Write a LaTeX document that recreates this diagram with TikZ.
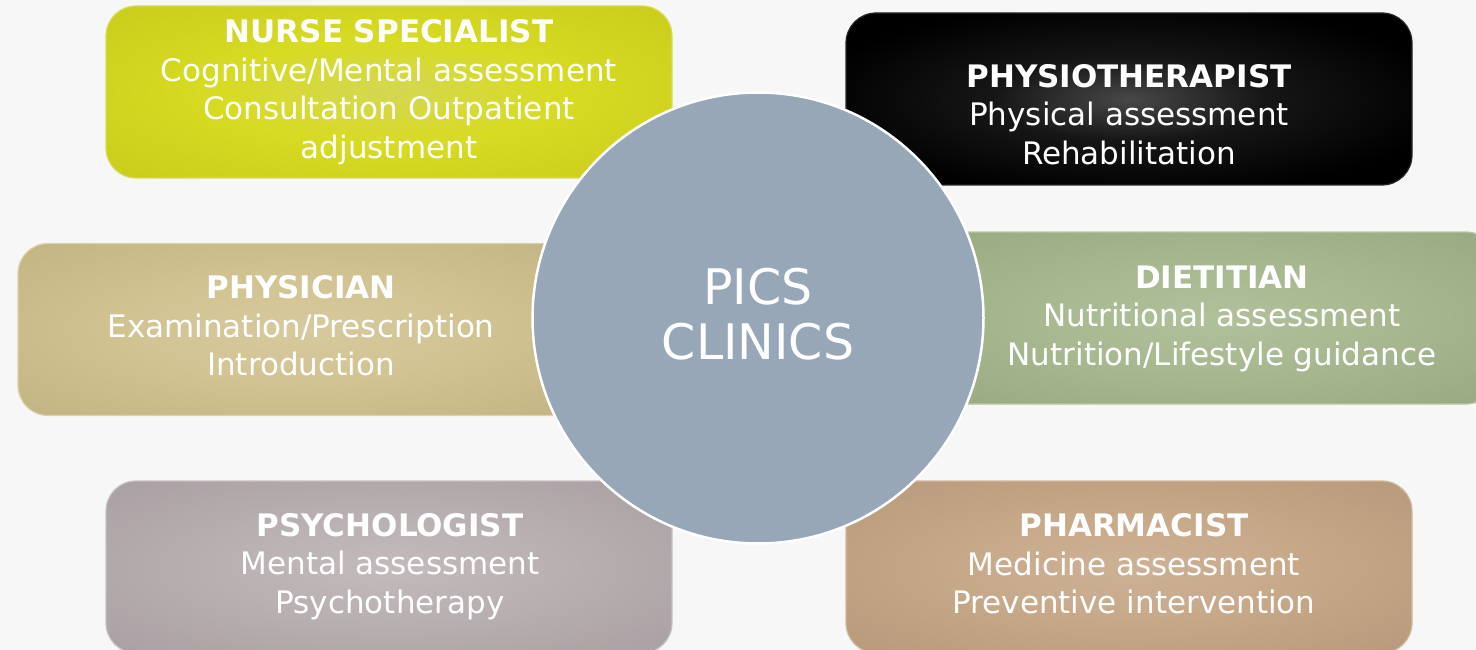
\documentclass[tikz,border=0pt]{standalone}
\usepackage{fontspec}
\setmainfont{DejaVu Sans}
\definecolor{bgc}{HTML}{F7F7F7}
\definecolor{circc}{HTML}{97A7B7}
\definecolor{nurseA}{HTML}{D4D752}
\definecolor{nurseB}{HTML}{D7DB22}
\definecolor{nurseC}{HTML}{C2C517}
\definecolor{physA}{HTML}{484848}
\definecolor{physB}{HTML}{161616}
\definecolor{physC}{HTML}{000000}
\definecolor{docA}{HTML}{D6C99D}
\definecolor{docB}{HTML}{D2C393}
\definecolor{docC}{HTML}{BBAC7B}
\definecolor{dietA}{HTML}{B0C09B}
\definecolor{dietB}{HTML}{A8B991}
\definecolor{dietC}{HTML}{91A27B}
\definecolor{psyA}{HTML}{C2BABB}
\definecolor{psyB}{HTML}{B9B0B2}
\definecolor{psyC}{HTML}{A1979A}
\definecolor{phaA}{HTML}{CDB195}
\definecolor{phaB}{HTML}{C7A98A}
\definecolor{phaC}{HTML}{AE9272}
\newcommand{\mkshade}[4]{\pgfdeclareradialshading{#1}{\pgfpointorigin}{color(0bp)=(#2); color(15bp)=(#3); color(46bp)=(#4); color(100bp)=(#4)}}
\mkshade{nurseSh}{nurseA}{nurseB}{nurseC}
\pgfdeclareradialshading{physSh}{\pgfpointorigin}{color(0bp)=(physA); color(12bp)=(physB); color(28bp)=(physC); color(100bp)=(physC)}
\mkshade{docSh}{docA}{docB}{docC}
\mkshade{dietSh}{dietA}{dietB}{dietC}
\mkshade{psySh}{psyA}{psyB}{psyC}
\mkshade{phaSh}{phaA}{phaB}{phaC}
\begin{document}
\begin{tikzpicture}[x=1pt,y=-1pt,
  box/.style={rounded corners=30pt, minimum width=566pt, minimum height=172pt, inner sep=0pt, line width=1.2pt},
  txt/.style={text=white, align=center, font=\fontsize{31}{38.5}\selectfont, inner sep=0pt}]
\useasboundingbox (0,0) rectangle (1476,650);
\fill[bgc] (0,0) rectangle (1476,650);
\clip (0,0) rectangle (1476,650);
% boxes
\node[box, shading=nurseSh, draw={rgb,255:red,217;green,220;blue,90}] (nurseBox) at (389,92) {};
\node[box, shading=physSh, draw={rgb,255:red,40;green,40;blue,40}] (physioBox) at (1129,99) {};
\node[box, shading=docSh, draw={rgb,255:red,222;green,210;blue,170}] (physicianBox) at (301,329.5) {};
\node[box, shading=dietSh, draw={rgb,255:red,185;green,200;blue,165}] (dietBox) at (1213,318) {};
\node[box, shading=psySh, draw={rgb,255:red,200;green,192;blue,194}] (psychBox) at (389,567) {};
\node[box, shading=phaSh, draw={rgb,255:red,210;green,185;blue,160}] (pharmBox) at (1129,567) {};
% centre
\node[circle, minimum size=451pt, inner sep=0pt, fill=circc, draw=white, line width=2.5pt] (pics) at (758,318) {};
\node[text=white, align=center, font=\fontsize{49}{55}\selectfont, inner sep=0pt] (picsText) at (758,314) {PICS\\CLINICS};
% texts
\node[txt] (nurse) at (389,92) {\textbf{NURSE SPECIALIST}\\Cognitive/Mental assessment\\Consultation Outpatient\\adjustment};
\node[txt] (physio) at (1129,114.5) {\textbf{PHYSIOTHERAPIST}\\Physical assessment\\Rehabilitation};
\node[txt] (physician) at (301,326) {\textbf{PHYSICIAN}\\Examination/Prescription\\Introduction};
\node[txt] (diet) at (1222,318.5) {\textbf{DIETITIAN}\\Nutritional assessment\\Nutrition/Lifestyle guidance};
\node[txt] (psych) at (390,566.5) {\textbf{PSYCHOLOGIST}\\Mental assessment\\Psychotherapy};
\node[txt] (pharm) at (1134,564) {\textbf{PHARMACIST}\\Medicine assessment\\Preventive intervention};
\end{tikzpicture}
\end{document}
